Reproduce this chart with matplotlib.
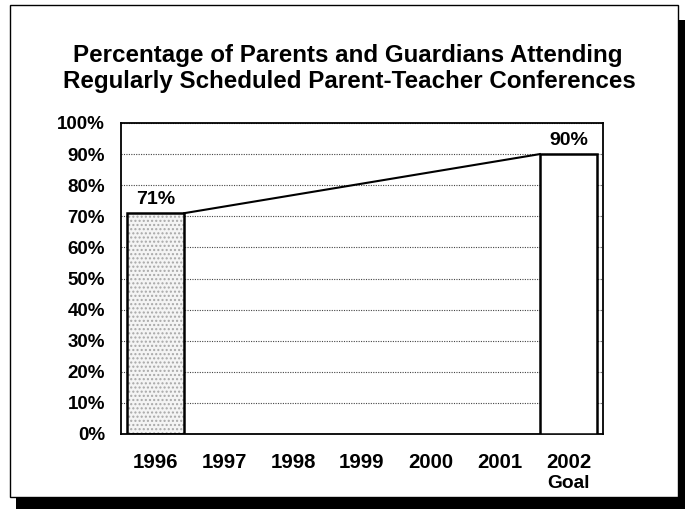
import matplotlib
matplotlib.use("Agg")
import matplotlib.pyplot as plt
from matplotlib.patches import Rectangle
from matplotlib.transforms import blended_transform_factory

plt.rcParams['font.family'] = ['Liberation Sans', 'DejaVu Sans']

categories = ["1996", "1997", "1998", "1999", "2000", "2001", "2002"]
goal_label = "Goal"
bar_idx = [0, 6]
bar_values = [71, 90]
bar_labels = ["71%", "90%"]
yticks = list(range(0, 101, 10))
ytick_labels = [f"{v}%" for v in yticks]
title_lines = ["Percentage of Parents and Guardians Attending",
               "Regularly Scheduled Parent-Teacher Conferences"]

W, H = 685, 509
fig = plt.figure(figsize=(W / 100, H / 100), dpi=100)


def fx(px):
    return px / W


def fy(py):
    return 1 - py / H


# frame with drop shadow
fig.patches.append(Rectangle((fx(16), fy(509)), fx(685) - fx(16), fy(20) - fy(509),
                             transform=fig.transFigure, facecolor="black", edgecolor="none", zorder=-3))
fig.patches.append(Rectangle((fx(10), fy(497)), fx(678) - fx(10), fy(5) - fy(497),
                             transform=fig.transFigure, facecolor="white", edgecolor="black",
                             linewidth=1.0, zorder=-2))

fig.text(fx(348), fy(62), title_lines[0], ha="center", va="baseline", fontsize=17.4, fontweight="bold")
fig.text(fx(349), fy(88), title_lines[1], ha="center", va="baseline", fontsize=17.4, fontweight="bold")

ax = fig.add_axes([fx(121), fy(434), fx(603) - fx(121), fy(123) - fy(434)])
ax.set_facecolor("white")
ax.set_xlim(-0.5, 6.5)
ax.set_ylim(0, 100)

ax.set_yticks(yticks)
ax.set_yticklabels(ytick_labels, fontsize=13.5, fontweight="bold")
ax.set_xticks(range(len(categories)))
ax.set_xticklabels(categories, fontsize=14.7, fontweight="bold")
ax.tick_params(axis="y", length=0, pad=11.5)
ax.tick_params(axis="x", length=0, pad=13.5)
ax.grid(axis="y", linestyle=(0, (1, 1.2)), color="#444444", linewidth=0.8)
ax.set_axisbelow(True)
for s in ax.spines.values():
    s.set_linewidth(1.3)

# "Goal" under the last category
trans = blended_transform_factory(ax.transData, fig.transFigure)
fig.text(0, 0, "")
ax.text(len(categories) - 1, fy(488), goal_label, transform=trans, ha="center", va="baseline",
        fontsize=13.8, fontweight="bold", clip_on=False)

width = 0.835
# stippled first bar
ax.bar(bar_idx[0], bar_values[0], width=width, facecolor="#f4f4f4", edgecolor="#a8a8a8",
       hatch="....", linewidth=0, zorder=2)
ax.bar(bar_idx[0], bar_values[0], width=width, facecolor="none", edgecolor="black", linewidth=1.8, zorder=3)
ax.bar(bar_idx[1], bar_values[1], width=width, facecolor="white", edgecolor="black", linewidth=1.8, zorder=3)

# connecting line
ax.plot([bar_idx[0] + width / 2, bar_idx[1] - width / 2], [bar_values[0], bar_values[1]],
        color="black", linewidth=1.5, zorder=4)

for i, v, t in zip(bar_idx, bar_values, bar_labels):
    ax.text(i, v + 1.8, t, ha="center", va="bottom", fontsize=14, fontweight="bold", zorder=5)

fig.savefig("out.png", dpi=100)
